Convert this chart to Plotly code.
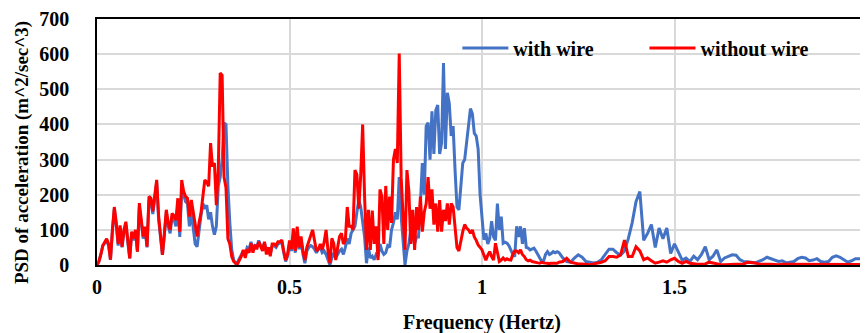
import numpy as np
import plotly.graph_objects as go

# frequency bins (Hz): 0.005 step up to 1.2, then 0.01 step to 2.0
freq_low = [round(i * 0.005, 3) for i in range(241)]
freq_high = [round(1.21 + i * 0.01, 2) for i in range(80)]
freq = freq_low + freq_high

without_wire_low = [
    0, 10, 30, 55, 65, 75, 60, 15, 100, 165,
    120, 60, 113, 52, 100, 123, 71, 19, 95, 76,
    100, 38, 176, 120, 81, 109, 52, 195, 190, 153,
    200, 242, 140, 80, 29, 90, 157, 120, 100, 147,
    140, 128, 190, 95, 242, 210, 195, 190, 138, 185,
    150, 109, 81, 120, 147, 195, 242, 235, 224, 347,
    280, 290, 170, 270, 546, 540, 250, 220, 75, 60,
    24, 10, 5, 3, 15, 25, 43, 20, 45, 35,
    62, 35, 57, 45, 66, 50, 40, 66, 30, 50,
    25, 60, 60, 55, 66, 66, 71, 40, 14, 30,
    70, 45, 104, 40, 109, 50, 81, 40, 14, 50,
    65, 80, 100, 70, 40, 45, 60, 43, 65, 100,
    40, 5, 76, 60, 14, 50, 81, 90, 60, 70,
    165, 110, 110, 100, 270, 257, 160, 257, 400, 195,
    43, 157, 43, 155, 60, 110, 14, 215, 195, 60,
    225, 100, 195, 120, 300, 330, 290, 602, 250, 138,
    43, 270, 210, 60, 157, 43, 165, 100, 195, 95,
    150, 175, 250, 160, 215, 115, 175, 95, 185, 95,
    157, 125, 175, 115, 175, 165, 95, 50, 40, 70,
    95, 115, 105, 100, 90, 100, 80, 70, 57, 50,
    43, 28, 14, 28, 38, 24, 14, 62, 40, 10,
    14, 20, 14, 18, 15, 14, 30, 40, 40, 35,
    43, 30, 24, 15, 12, 14, 10, 8, 8, 6,
    5, 8, 6, 5, 6, 4, 5, 4, 5, 5,
    8,
]
without_wire_high = [
    10, 19, 8, 5, 3, 3, 2, 1, 3, 5,
    8, 12, 24, 24, 22, 29, 71, 24, 24, 52,
    40, 15, 20, 12, 5, 8, 12, 8, 15, 19,
    10, 5, 10, 5, 3, 2, 2, 3, 8, 5,
    2, 1, 1, 2, 3, 2, 2, 3, 8, 8,
    6, 2, 1, 2, 2, 1, 1, 2, 2, 1,
    1, 2, 2, 1, 1, 1, 2, 1, 1, 1,
    1, 1, 2, 1, 1, 1, 1, 1, 1, 1,
]

with_wire_low = [
    0, 10, 30, 55, 62, 70, 55, 15, 95, 160,
    115, 55, 105, 50, 95, 115, 65, 19, 90, 70,
    95, 38, 165, 110, 75, 100, 50, 185, 180, 145,
    195, 235, 130, 75, 29, 85, 150, 110, 90, 140,
    130, 110, 170, 80, 215, 200, 180, 175, 110, 150,
    100, 60, 52, 100, 140, 175, 160, 170, 130, 150,
    110, 86, 110, 225, 250, 300, 404, 400, 225, 120,
    43, 14, 5, 8, 20, 30, 40, 30, 50, 45,
    66, 45, 55, 50, 70, 55, 50, 62, 40, 50,
    30, 55, 55, 50, 60, 62, 65, 35, 10, 25,
    60, 40, 80, 35, 85, 45, 70, 30, 5, 40,
    50, 55, 52, 45, 35, 45, 50, 35, 40, 30,
    15, 0, 20, 35, 20, 30, 40, 45, 30, 50,
    75, 60, 90, 100, 110, 150, 185, 165, 120, 80,
    5, 50, 20, 25, 15, 30, 25, 60, 40, 30,
    35, 55, 50, 100, 120, 150, 130, 250, 140, 80,
    0, 40, 60, 100, 80, 60, 80, 80, 175, 290,
    200, 395, 405, 300, 437, 316, 440, 455, 316, 347,
    575, 330, 490, 460, 367, 395, 270, 165, 157, 225,
    290, 300, 347, 405, 445, 430, 375, 367, 330, 200,
    138, 72, 90, 60, 75, 125, 80, 70, 175, 100,
    138, 62, 65, 62, 55, 40, 30, 24, 110, 80,
    110, 60, 105, 50, 48, 43, 45, 48, 40, 30,
    24, 10, 12, 30, 38, 30, 33, 38, 35, 38,
    35,
]
with_wire_high = [
    20, 10, 8, 20, 29, 22, 10, 8, 6, 8,
    15, 30, 45, 45, 35, 28, 40, 75, 120, 180,
    209, 70, 90, 115, 50, 105, 75, 105, 33, 60,
    35, 14, 20, 10, 25, 15, 30, 52, 15, 25,
    43, 10, 20, 25, 29, 28, 15, 10, 10, 8,
    6, 10, 15, 22, 18, 15, 10, 12, 6, 8,
    10, 18, 22, 20, 12, 14, 18, 10, 8, 10,
    22, 26, 22, 15, 8, 12, 18, 18, 16, 15,
]

with_wire = with_wire_low + with_wire_high
without_wire = without_wire_low + without_wire_high

x_ticks = [0, 0.5, 1, 1.5, 2]
x_tick_labels = ["0", "0.5", "1", "1.5", "2"]
y_ticks = [0, 100, 200, 300, 400, 500, 600, 700]

FONT = "Liberation Serif, Times New Roman, serif"
FS = 20

fig = go.Figure()
fig.add_trace(go.Scatter(
    x=freq, y=with_wire, mode="lines", name="with wire",
    line=dict(color="#4472C4", width=3), legend="legend",
))
fig.add_trace(go.Scatter(
    x=freq, y=without_wire, mode="lines", name="without wire",
    line=dict(color="#FF0000", width=3), legend="legend2",
))

legend_common = dict(
    orientation="h", yanchor="middle", xanchor="left",
    bgcolor="rgba(0,0,0,0)", borderwidth=0,
    font=dict(family=FONT, size=FS, color="black", weight="bold"),
    itemwidth=46,
)

title_font = dict(family=FONT, size=FS, color="black", weight="bold")

# page body has an 8px margin; figure is sized so that the plot area lands
# where the reference has it
fig.update_layout(
    width=860, height=325,
    margin=dict(l=89, r=1, t=11, b=68),
    paper_bgcolor="white", plot_bgcolor="white",
    showlegend=True,
    legend=dict(x=0.468, y=0.882, **legend_common),
    legend2=dict(x=0.711, y=0.882, **legend_common),
    xaxis=dict(
        range=[0, 2], tickvals=x_ticks, ticktext=x_tick_labels,
        showgrid=True, gridcolor="#d9d9d9", gridwidth=1.5,
        showline=True, linecolor="black", linewidth=1.5, mirror=True,
        zeroline=False,
        ticks="outside", ticklen=3, tickcolor="rgba(0,0,0,0)",
        ticklabeloverflow="allow",
        tickfont=dict(family=FONT, size=FS, color="black", weight="bold"),
        automargin=False,
    ),
    yaxis=dict(
        range=[0, 700], tickvals=y_ticks,
        showgrid=True, gridcolor="#d9d9d9", gridwidth=1.5,
        showline=True, linecolor="black", linewidth=1.5, mirror=True,
        zeroline=False,
        ticks="outside", ticklen=22, tickcolor="rgba(0,0,0,0)",
        tickfont=dict(family=FONT, size=FS, color="black", weight="bold"),
        automargin=False,
    ),
    annotations=[
        dict(text="Frequency (Hertz)", x=0.5, y=-0.232, xref="paper", yref="paper",
             xanchor="center", yanchor="middle", showarrow=False, font=title_font),
        dict(text="PSD of acceleration (m^2/sec^3)", x=-0.0974, y=0.455,
             xref="paper", yref="paper", xanchor="center", yanchor="middle",
             textangle=-90, showarrow=False,
             font=dict(family=FONT, size=19, color="black", weight="bold")),
    ],
)

fig.write_html("out.html")
